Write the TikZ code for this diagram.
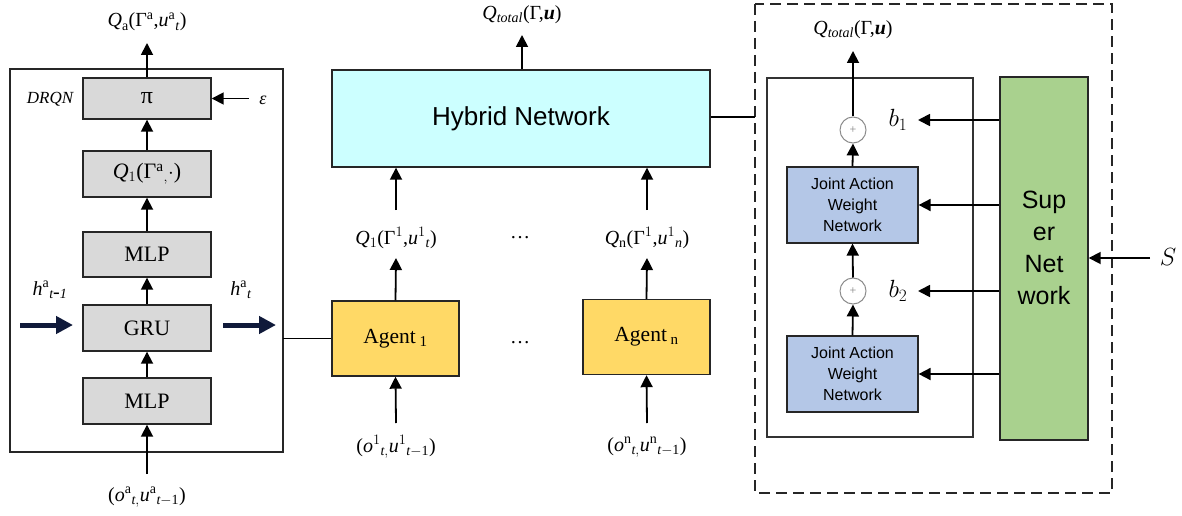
\documentclass[tikz,border=0pt]{standalone}
\usepackage{fontspec}
\setmainfont{Liberation Serif}
\newfontfamily\arialf{Liberation Sans}
\usetikzlibrary{arrows.meta}
\definecolor{grayfill}{RGB}{217,217,217}
\definecolor{cyanfill}{RGB}{204,255,255}
\definecolor{yellowfill}{RGB}{255,217,102}
\definecolor{bluefill}{RGB}{180,199,231}
\definecolor{greenfill}{RGB}{169,209,142}
\definecolor{navy}{RGB}{16,26,58}
\newcommand\fs[1]{\fontsize{#1}{#1}\selectfont}
\tikzset{
  gbox/.style={draw=black!85, line width=1.4pt, fill=grayfill, minimum width=128pt, inner sep=0pt, font=\fs{22}},
  agentbox/.style={draw=black!85, line width=1.4pt, fill=yellowfill, minimum width=127pt, minimum height=75pt, inner sep=0pt, font=\fs{21.5}},
  jbox/.style={draw=black!85, line width=1.2pt, fill=bluefill, minimum width=131pt, minimum height=76pt, inner sep=0pt, align=center, font=\arialf\fs{16}\linespread{1.3}\selectfont},
  arr/.style={line width=1.8pt, -{Triangle[length=12pt,width=12pt]}},
  thick arr/.style={line width=5pt, navy, -{Triangle[length=17pt,width=17pt]}},
  lbl/.style={inner sep=0pt, font=\fs{20}},
  plus/.style={circle, draw=black!45, line width=1pt, minimum size=26pt, inner sep=0pt, font=\fs{12}\color{black!50}},
}
\begin{document}
\begin{tikzpicture}[x=1pt,y=-1pt]
\useasboundingbox (0,0) rectangle (1182,516);
\fill[white] (0,0) rectangle (1182,516);
% ---------- left DRQN block ----------
\draw[line width=1.4pt, black!85] (10,69) rectangle (283,452);
\node[gbox, minimum height=41pt] (pi) at (147,98.5) {\fs{24}π};
\node[gbox, minimum height=46pt] (q1b) at (147,174) {\textit{Q}$_{1}$(Γ$^{\mathrm{a}}{}_{,}\cdot$)};
\node[gbox, minimum height=45pt] (mlp1) at (147,254.5) {MLP};
\node[gbox, minimum height=46pt] (gru) at (147,328) {GRU};
\node[gbox, minimum height=46pt] (mlp2) at (147,401) {MLP};
\node[lbl] (qa) at (147,22) {\textit{Q}\textsubscript{a}(Γ$^{\mathrm{a}}$,\textit{u}$^{\mathrm{a}}{}_{\mathit{t}}$)};
\coordinate (qaend) at (147,43);
\node[lbl, font=\fs{17}\itshape] (drqn) at (50,99) {DRQN};
\node[lbl, font=\fs{18}\itshape] (eps) at (263,100) {ε};
\coordinate (epsstart) at (249,98.5);
\node[lbl] (inA) at (147,497) {(\textit{o}$^{\mathrm{a}}{}_{\mathit{t}\mathrm{,}}$\textit{u}$^{\mathrm{a}}{}_{\mathit{t}\mathrm{-1}}$)};
\coordinate (inAstart) at (147,474);
\node[lbl] (hprev) at (50,290) {\textit{h}$^{\mathrm{a}}{}_{\mathit{t\mbox{-}1}}$};
\node[lbl] (hcur) at (241,290) {\textit{h}$^{\mathrm{a}}{}_{\mathit{t}}$};
\coordinate (hp1) at (20,325); \coordinate (hp2) at (73,325);
\coordinate (hc1) at (223,325); \coordinate (hc2) at (276,325);
\coordinate (lboxE) at (283,338.5);
\draw[arr] (pi.north) -- (qaend);
\draw[arr] (epsstart) -- (pi.east);
\draw[arr] (q1b.north) -- (pi.south);
\draw[arr] (mlp1.north) -- (q1b.south);
\draw[arr] (gru.north) -- (mlp1.south);
\draw[arr] (mlp2.north) -- (gru.south);
\draw[arr] (inAstart) -- (mlp2.south);
\draw[thick arr] (hp1) -- (hp2);
\draw[thick arr] (hc1) -- (hc2);
% ---------- middle ----------
\node[draw=black!85, line width=1.4pt, fill=cyanfill, minimum width=378pt, minimum height=97pt, inner sep=0pt, font=\arialf\fs{26}] (hyb) at (521,118.5) {Hybrid Network};
\node[lbl] (qtot) at (522,15) {\textit{Q}$_{\mathit{total}}$(Γ,\textbf{\textit{u}})};
\coordinate (qtotend) at (522,35);
\draw[arr] (hyb.north -| qtotend) -- (qtotend);
\node[agentbox] (ag1) at (395.5,338.5) {Agent\,\textsubscript{1}};
\node[agentbox] (agn) at (646.5,337) {Agent\,\textsubscript{n}};
\node[lbl] (q1) at (396,238) {\textit{Q}$_{1}$(Γ$^{1}$,\textit{u}$^{1}{}_{\mathit{t}}$)};
\node[lbl] (qn) at (647,238) {\textit{Q}$_{\mathrm{n}}$(Γ$^{1}$,\textit{u}$^{1}{}_{\mathit{n}}$)};
\node[lbl] (dots1) at (520,238) {\ldots};
\node[lbl] (dots2) at (520,343) {\ldots};
\coordinate (q1top) at (396,210); \coordinate (qntop) at (647,210);
\coordinate (ag1top) at (396,258); \coordinate (agntop) at (647,258);
\draw[arr] (q1top) -- (q1top |- hyb.south);
\draw[arr] (qntop) -- (qntop |- hyb.south);
\draw[arr] (ag1.north) -- (ag1top);
\draw[arr] (agn.north) -- (agntop);
\node[lbl] (in1) at (396,447) {(\textit{o}$^{1}{}_{\mathit{t}\mathrm{,}}$\textit{u}$^{1}{}_{\mathit{t}\mathrm{-1}}$)};
\node[lbl] (inn) at (647,447) {(\textit{o}$^{\mathrm{n}}{}_{\mathit{t}\mathrm{,}}$\textit{u}$^{\mathrm{n}}{}_{\mathit{t}\mathrm{-1}}$)};
\coordinate (in1s) at (396,423); \coordinate (inns) at (647,423);
\draw[arr] (in1s) -- (ag1.south);
\draw[arr] (inns) -- (agn.south);
\draw[line width=1.4pt] (lboxE) -- (ag1.west);
% ---------- right ----------
\draw[line width=2pt, black!85, dash pattern=on 11pt off 6pt] (755,4) rectangle (1112,493);
\draw[line width=1.4pt, black!80] (767,78) rectangle (973,437);
\coordinate (dboxW) at (755,117);
\draw[line width=1.4pt] (hyb.east |- dboxW) -- (dboxW);
\node[lbl] (qtot2) at (853,30) {\textit{Q}$_{\mathit{total}}$(Γ,\textbf{\textit{u}})};
\coordinate (qtot2end) at (853,51);
\node[plus] (c1) at (853,130) {+};
\node[plus] (c2) at (853,291) {+};
\node[jbox] (j1) at (852.5,205) {Joint Action\\Weight\\Network};
\node[jbox] (j2) at (852.5,374) {Joint Action\\Weight\\Network};
\node[draw=black!85, line width=1.4pt, fill=greenfill, minimum width=88pt, minimum height=363pt, inner sep=0pt] (sup) at (1044,258.5) {};
\node[inner sep=0pt, align=center, font=\arialf\fs{25}\linespread{1.28}\selectfont] (suptext) at (1044,248) {Sup\\er\\Net\\work};
\node[lbl, font=\fs{24}] (b1) at (898,120) {$b_1$};
\node[lbl, font=\fs{24}] (b2) at (898,291) {$b_2$};
\node[lbl, font=\fs{25}] (S) at (1168,257) {$S$};
\coordinate (b1tip) at (918,120); \coordinate (b2tip) at (918,291);
\coordinate (Sstart) at (1150,258);
\draw[arr] (c1.north) -- (qtot2end);
\draw[arr] (j1.north) -- (c1.south);
\draw[arr] (c2.north) -- (j1.south);
\draw[arr] (j2.north) -- (c2.south);
\draw[arr] (sup.west |- b1tip) -- (b1tip);
\draw[arr] (sup.west |- j1.east) -- (j1.east);
\draw[arr] (sup.west |- b2tip) -- (b2tip);
\draw[arr] (sup.west |- j2.east) -- (j2.east);
\draw[arr] (Sstart) -- (Sstart -| sup.east);
\end{tikzpicture}
\end{document}
